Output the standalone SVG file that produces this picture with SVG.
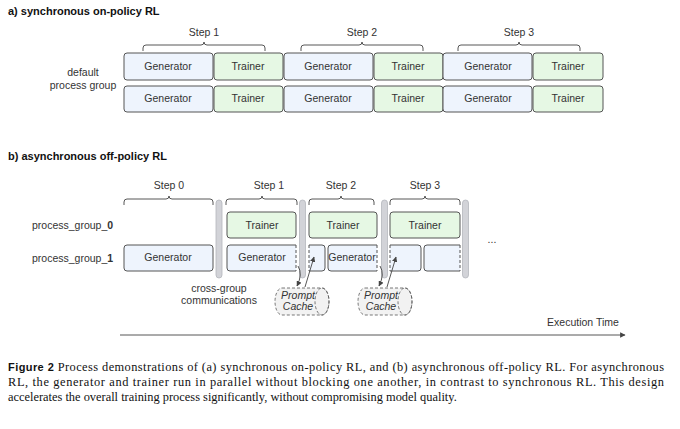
<svg xmlns="http://www.w3.org/2000/svg" width="680" height="429" viewBox="0 0 680 429">
<style>
.t{font-family:"Liberation Sans",Arial,sans-serif;font-size:10.5px;fill:#333}
.h{font-family:"Liberation Sans",Arial,sans-serif;font-size:11px;font-weight:bold;fill:#111}
.g{fill:#eef4fd;stroke:#555;stroke-width:1}
.r{fill:#e6f8e4;stroke:#555;stroke-width:1}
.br{fill:none;stroke:#444;stroke-width:0.9}
.bar{fill:#d2d3d8;stroke:#b4b6bc;stroke-width:0.8}
.o{fill:none;stroke:#555;stroke-width:1}
.d{stroke-dasharray:3,2}
.cap{font-family:"Liberation Serif","Times New Roman",serif;font-size:12.4px;fill:#111}
</style>
<defs><marker id="a" viewBox="0 0 10 10" refX="9" refY="5" markerWidth="6" markerHeight="6" orient="auto"><path d="M0,0L10,5L0,10z" fill="#444"/></marker></defs>
<text class="h" x="8" y="15">a) synchronous on-policy RL</text>
<text class="t" x="83" y="76" text-anchor="middle">default</text>
<text class="t" x="83" y="89" text-anchor="middle">process group</text>
<g id="stepsA">
<text class="t" x="204" y="36" text-anchor="middle">Step 1</text>
<path class="br" d="M143,51v-3q0-3 3-3h55q3,0 3-3q0,3 3,3h55q3,0 3,3v3"/>
<text class="t" x="362" y="36" text-anchor="middle">Step 2</text>
<path class="br" d="M301,51v-3q0-3 3-3h55q3,0 3-3q0,3 3,3h55q3,0 3,3v3"/>
<text class="t" x="519" y="36" text-anchor="middle">Step 3</text>
<path class="br" d="M458,51v-3q0-3 3-3h55q3,0 3-3q0,3 3,3h55q3,0 3,3v3"/>
</g>
<g id="rowA1">
<rect class="g" x="124" y="53" width="89" height="27" rx="3"/><text class="t" x="168" y="70" text-anchor="middle">Generator</text>
<rect class="r" x="214" y="53" width="69" height="27" rx="3"/><text class="t" x="248" y="70" text-anchor="middle">Trainer</text>
<rect class="g" x="284" y="53" width="89" height="27" rx="3"/><text class="t" x="328" y="70" text-anchor="middle">Generator</text>
<rect class="r" x="374" y="53" width="69" height="27" rx="3"/><text class="t" x="408" y="70" text-anchor="middle">Trainer</text>
<rect class="g" x="443" y="53" width="89" height="27" rx="3"/><text class="t" x="488" y="70" text-anchor="middle">Generator</text>
<rect class="r" x="533" y="53" width="70" height="27" rx="3"/><text class="t" x="568" y="70" text-anchor="middle">Trainer</text>
</g>
<g id="rowA2">
<rect class="g" x="124" y="86" width="89" height="26" rx="3"/><text class="t" x="168" y="102" text-anchor="middle">Generator</text>
<rect class="r" x="214" y="86" width="69" height="26" rx="3"/><text class="t" x="248" y="102" text-anchor="middle">Trainer</text>
<rect class="g" x="284" y="86" width="89" height="26" rx="3"/><text class="t" x="328" y="102" text-anchor="middle">Generator</text>
<rect class="r" x="374" y="86" width="69" height="26" rx="3"/><text class="t" x="408" y="102" text-anchor="middle">Trainer</text>
<rect class="g" x="443" y="86" width="89" height="26" rx="3"/><text class="t" x="488" y="102" text-anchor="middle">Generator</text>
<rect class="r" x="533" y="86" width="70" height="26" rx="3"/><text class="t" x="568" y="102" text-anchor="middle">Trainer</text>
</g>
<text class="h" x="8" y="160">b) asynchronous off-policy RL</text>
<text class="t" x="32" y="229">process_group_<tspan font-weight="bold">0</tspan></text>
<text class="t" x="32" y="262">process_group_<tspan font-weight="bold">1</tspan></text>
<g id="stepsB">
<text class="t" x="169" y="189" text-anchor="middle">Step 0</text>
<path class="br" d="M124,205v-3q0-3 3-3h39q3,0 3-3q0,3 3,3h38q3,0 3,3v3"/>
<text class="t" x="269" y="189" text-anchor="middle">Step 1</text>
<path class="br" d="M226,205v-3q0-3 3-3h30q3,0 3-3q0,3 3,3h29q3,0 3,3v3"/>
<text class="t" x="341" y="189" text-anchor="middle">Step 2</text>
<path class="br" d="M309,205v-3q0-3 3-3h26q3,0 3-3q0,3 3,3h27q3,0 3,3v3"/>
<text class="t" x="425" y="189" text-anchor="middle">Step 3</text>
<path class="br" d="M390,205v-3q0-3 3-3h29q3,0 3-3q0,3 3,3h29q3,0 3,3v3"/>
</g>
<g id="bars">
<rect class="bar" x="216" y="200" width="6" height="78" rx="3"/>
<rect class="bar" x="299.5" y="200" width="6" height="78" rx="3"/>
<rect class="bar" x="381.5" y="200" width="6" height="78" rx="3"/>
<rect class="bar" x="462.5" y="200" width="6" height="78" rx="3"/>
</g>
<g id="rowB0">
<rect class="r" x="227" y="212" width="69" height="26" rx="3"/><text class="t" x="262" y="229" text-anchor="middle">Trainer</text>
<rect class="r" x="309" y="212" width="68" height="26" rx="3"/><text class="t" x="343" y="229" text-anchor="middle">Trainer</text>
<rect class="r" x="390" y="212" width="70" height="26" rx="3"/><text class="t" x="425" y="229" text-anchor="middle">Trainer</text>
</g>
<g id="rowB1">
<rect class="g" x="124" y="245" width="89" height="26" rx="3"/><text class="t" x="168" y="261" text-anchor="middle">Generator</text>
<rect x="227" y="245" width="69" height="26" fill="#eef4fd"/>
<path class="o" d="M296,271h-66q-3,0 -3-3v-20q0-3 3-3h66"/><path class="o d" d="M296,245v26"/>
<text class="t" x="262" y="261" text-anchor="middle">Generator</text>
<rect x="309" y="245" width="16" height="26" fill="#eef4fd"/>
<path class="o" d="M309,245h13q3,0 3,3v20q0,3 -3,3h-13"/><path class="o d" d="M309,245v26"/>
<rect x="328" y="245" width="49" height="26" fill="#eef4fd"/>
<path class="o" d="M377,271h-46q-3,0 -3-3v-20q0-3 3-3h46"/><path class="o d" d="M377,245v26"/>
<text class="t" x="352" y="261" text-anchor="middle">Generator</text>
<rect x="390" y="245" width="31" height="26" fill="#eef4fd"/>
<path class="o" d="M390,245h28q3,0 3,3v20q0,3 -3,3h-28"/><path class="o d" d="M390,245v26"/>
<rect x="424" y="245" width="36" height="26" fill="#eef4fd"/>
<path class="o" d="M460,271h-33q-3,0 -3-3v-20q0-3 3-3h33"/><path class="o d" d="M460,245v26"/>
</g>
<text class="t" x="492" y="243" text-anchor="middle">...</text>
<text class="t" x="219" y="292" text-anchor="middle">cross-group</text>
<text class="t" x="219" y="304" text-anchor="middle">communications</text>
<g id="cache1">
<path fill="#f2f2f2" stroke="#555" stroke-width="0.8" class="d" d="M282,288h40a7,13.5 0 0 1 0,27h-40a7,13.5 0 0 1 0-27z"/>
<ellipse cx="322" cy="301.5" rx="7" ry="13.5" fill="none" stroke="#555" stroke-width="0.8" class="d"/>
<text class="t" x="298" y="299" text-anchor="middle" font-style="italic" font-size="9">Prompt</text>
<text class="t" x="298" y="310" text-anchor="middle" font-style="italic" font-size="9">Cache</text>
</g>
<g id="cache2">
<path fill="#f2f2f2" stroke="#555" stroke-width="0.8" class="d" d="M365,288h40a7,13.5 0 0 1 0,27h-40a7,13.5 0 0 1 0-27z"/>
<ellipse cx="405" cy="301.5" rx="7" ry="13.5" fill="none" stroke="#555" stroke-width="0.8" class="d"/>
<text class="t" x="381" y="299" text-anchor="middle" font-style="italic" font-size="9">Prompt</text>
<text class="t" x="381" y="310" text-anchor="middle" font-style="italic" font-size="9">Cache</text>
</g>
<g id="connectors" fill="none" stroke="#444" stroke-width="0.9">
<path d="M298,266q5,8 -1,20" marker-end="url(#a)"/>
<path d="M305,287l9-30" marker-end="url(#a)"/>
<path d="M380,266q5,8 -1,20" marker-end="url(#a)"/>
<path d="M387,287l9-30" marker-end="url(#a)"/>
<path d="M120,335H625" marker-end="url(#a)"/>
</g>
<text class="t" x="583" y="326" text-anchor="middle">Execution Time</text>
<text class="cap" x="8" y="371" textLength="656"><tspan font-family="Liberation Sans,sans-serif" font-weight="bold" font-size="11">Figure 2</tspan> Process demonstrations of (a) synchronous on-policy RL, and (b) asynchronous off-policy RL. For asynchronous</text>
<text class="cap" x="8" y="386" textLength="656">RL, the generator and trainer run in parallel without blocking one another, in contrast to synchronous RL. This design</text>
<text class="cap" x="8" y="401">accelerates the overall training process significantly, without compromising model quality.</text>
</svg>
